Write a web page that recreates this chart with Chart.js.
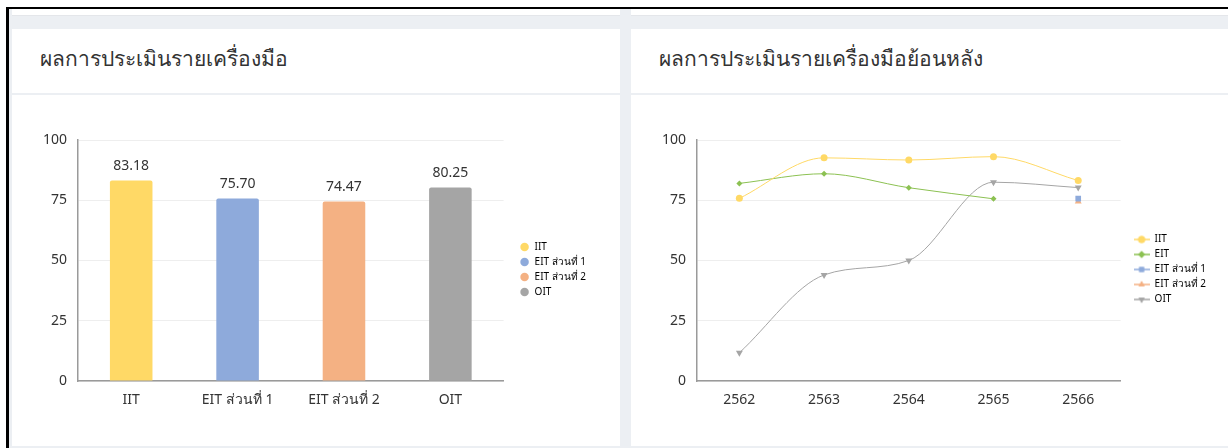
<!DOCTYPE html>
<html>
<head>
<meta charset="utf-8">
<script src="https://cdn.jsdelivr.net/npm/chart.js@4.4.0/dist/chart.umd.min.js"></script>
<style>
  html, body { margin: 0; padding: 0; background: #fff; width: 1228px; height: 448px; overflow: hidden; }
  body { font-family: "Noto Sans", "DejaVu Sans", sans-serif; }
  .frame { position: absolute; left: 6px; top: 7px; right: 0; bottom: 0; border-left: 3px solid #000; border-top: 2px solid #000; background: #eceff3; }
  .stub { position: absolute; top: 9px; height: 6px; background: #fff; border-bottom: 1px solid #e4e6ea; }
  .card { position: absolute; top: 29px; height: 417px; background: #fff; }
  .card-head { height: 64px; border-bottom: 2px solid #eceff3; box-sizing: content-box; }
  .card-head h3 { margin: 0; padding: 0 0 0 28px; font-weight: 400; font-size: 21px; line-height: 58px; color: #333; }
  .chart-box { position: relative; height: 351px; }
</style>
</head>
<body>
<div class="frame"></div>
<div class="stub" style="left:12px;width:608px"></div>
<div class="stub" style="left:631px;width:597px"></div>

<div class="card" style="left:12px;width:608px">
  <div class="card-head"><h3>ผลการประเมินรายเครื่องมือ</h3></div>
  <div class="chart-box"><canvas id="barChart"></canvas></div>
</div>
<div class="card" style="left:631px;width:597px">
  <div class="card-head"><h3>ผลการประเมินรายเครื่องมือย้อนหลัง</h3></div>
  <div class="chart-box"><canvas id="lineChart"></canvas></div>
</div>

<script>
// bar chart data
const toolLabels = ['IIT', 'EIT ส่วนที่ 1', 'EIT ส่วนที่ 2', 'OIT'];
const toolScores = [83.18, 75.70, 74.47, 80.25];
const toolColors = ['#ffd966', '#8eaadb', '#f4b183', '#a5a5a5'];

// line chart data (by year)
const years = ['2562', '2563', '2564', '2565', '2566'];
const iitByYear = [75.8, 92.6, 91.7, 93.1, 83.18];
const eitByYear = [82.0, 86.0, 80.2, 75.6, null];
const eit1ByYear = [null, null, null, null, 75.70];
const eit2ByYear = [null, null, null, null, 74.47];
const oitByYear = [11.7, 44.0, 50.0, 82.5, 80.25];

const yTicks = [0, 25, 50, 75, 100];

const tickFont = { family: '"Noto Sans", "DejaVu Sans", sans-serif', size: 14 };
const legendFont = { family: '"Noto Sans", "DejaVu Sans", sans-serif', size: 10 };

// draw value labels above bars
const valueLabels = {
    id: 'valueLabels',
    afterDatasetsDraw(chart) {
        const ctx = chart.ctx;
        const meta = chart.getDatasetMeta(0);
        ctx.save();
        ctx.font = '14px "Noto Sans", "DejaVu Sans", sans-serif';
        ctx.fillStyle = '#333';
        ctx.textAlign = 'center';
        ctx.textBaseline = 'bottom';
        meta.data.forEach((bar, i) => {
            ctx.fillText(toolScores[i].toFixed(2), bar.x, bar.y - 8);
        });
        ctx.restore();
    }
};

// leave a small gap between plot area and the legend
const legendGap = {
    id: 'legendGap',
    afterLayout(chart, args, opts) {
        const lg = chart.legend;
        if (!lg) return;
        lg.left = chart.chartArea.right + (opts.gap || 0);
        lg.right = lg.left + lg.width;
    }
};

// empty title used only to reserve space above the plot
const spacerTitle = {
    display: true,
    text: '',
    fullSize: false,
    font: { size: 10, lineHeight: 1 },
    padding: { top: 35, bottom: 0 }
};

function yScale() {
    return {
        min: 0,
        max: 100,
        afterBuildTicks: s => { s.ticks = yTicks.map(v => ({ value: v })); },
        afterFit: s => { s.width = 66; },
        border: { color: '#9a9a9a', width: 1.5 },
        grid: { color: '#eeeeee', drawTicks: false },
        ticks: { color: '#333333', font: tickFont, padding: 11 }
    };
}

function xScale() {
    return {
        afterFit: s => { s.height = 63; },
        border: { color: '#9a9a9a', width: 1.5 },
        grid: { display: false, drawTicks: false },
        ticks: { color: '#333333', font: tickFont, padding: 11 }
    };
}

new Chart(document.getElementById('barChart'), {
    type: 'bar',
    data: {
        labels: toolLabels,
        datasets: [{
            data: toolScores,
            backgroundColor: toolColors,
            borderColor: toolColors,
            borderWidth: 0,
            borderRadius: 2,
            barPercentage: 0.5,
            categoryPercentage: 0.8
        }]
    },
    options: {
        responsive: true,
        maintainAspectRatio: false,
        animation: false,
        layout: { padding: { top: 0, right: 35, left: 0, bottom: 2 } },
        scales: { x: xScale(), y: yScale() },
        plugins: {
            tooltip: { enabled: false },
            title: spacerTitle,
            legendGap: { gap: 11 },
            legend: {
                position: 'right',
                labels: {
                    usePointStyle: true,
                    pointStyle: 'circle',
                    boxHeight: 6,
                    padding: 5,
                    color: '#595959',
                    font: legendFont,
                    generateLabels: () => toolLabels.map((l, i) => ({
                        text: l,
                        fillStyle: toolColors[i],
                        strokeStyle: toolColors[i],
                        lineWidth: 0,
                        pointStyle: 'circle',
                        index: i
                    }))
                }
            }
        }
    },
    plugins: [valueLabels, legendGap]
});

// legend icon: short line with the marker on it
function legendIcon(color, style, rotation) {
    const c = document.createElement('canvas');
    c.width = 16;
    c.height = 10;
    const g = c.getContext('2d');
    g.strokeStyle = color;
    g.lineWidth = 1.5;
    g.beginPath();
    g.moveTo(0, 5);
    g.lineTo(16, 5);
    g.stroke();
    g.fillStyle = color;
    Chart.helpers.drawPoint(g, { pointStyle: style, radius: 3.5, rotation: rotation || 0, borderWidth: 0 }, 8, 5);
    g.fill();
    return c;
}

const lineSeries = [
    { label: 'IIT', data: iitByYear, color: '#ffd966', style: 'circle', radius: 3.5, rot: 0 },
    { label: 'EIT', data: eitByYear, color: '#8cc152', style: 'rectRot', radius: 3, rot: 0 },
    { label: 'EIT ส่วนที่ 1', data: eit1ByYear, color: '#8eaadb', style: 'rect', radius: 4, rot: 0 },
    { label: 'EIT ส่วนที่ 2', data: eit2ByYear, color: '#f4b183', style: 'triangle', radius: 4, rot: 0 },
    { label: 'OIT', data: oitByYear, color: '#a5a5a5', style: 'triangle', radius: 4, rot: 180 }
];

new Chart(document.getElementById('lineChart'), {
    type: 'line',
    data: {
        labels: years,
        datasets: lineSeries.map(s => ({
            label: s.label,
            data: s.data,
            borderColor: s.color,
            backgroundColor: s.color,
            borderWidth: 1,
            cubicInterpolationMode: 'monotone',
            pointStyle: s.style,
            pointRadius: s.radius,
            pointRotation: s.rot,
            pointBorderWidth: 0
        }))
    },
    options: {
        responsive: true,
        maintainAspectRatio: false,
        animation: false,
        layout: { padding: { top: 0, right: 20, left: 0, bottom: 2 } },
        scales: { x: Object.assign(xScale(), { offset: true }), y: yScale() },
        plugins: {
            tooltip: { enabled: false },
            title: spacerTitle,
            legendGap: { gap: 8 },
            legend: {
                position: 'right',
                labels: {
                    usePointStyle: true,
                    pointStyleWidth: 16,
                    boxHeight: 10,
                    padding: 5,
                    color: '#595959',
                    font: legendFont,
                    generateLabels: () => lineSeries.map((s, i) => ({
                        text: s.label,
                        fillStyle: s.color,
                        strokeStyle: s.color,
                        lineWidth: 0,
                        pointStyle: legendIcon(s.color, s.style, s.rot),
                        datasetIndex: i
                    }))
                }
            }
        }
    },
    plugins: [legendGap]
});
</script>
</body>
</html>
